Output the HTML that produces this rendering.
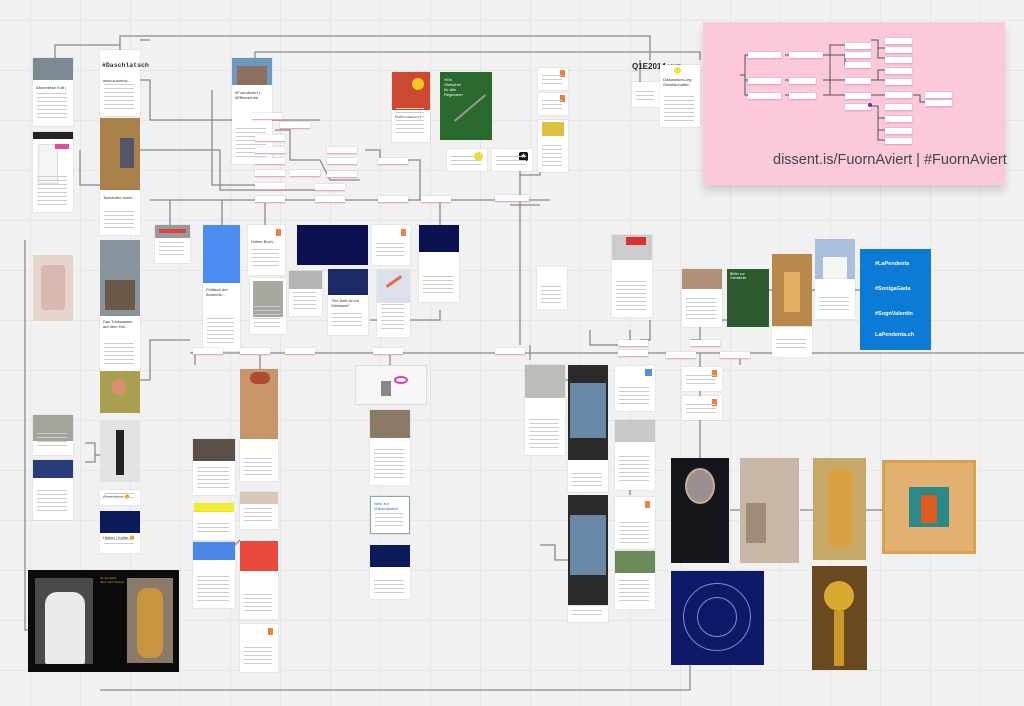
<!DOCTYPE html>
<html><head><meta charset="utf-8"><style>
*{margin:0;padding:0;box-sizing:border-box}
body{width:1024px;height:706px;overflow:hidden;position:relative;font-family:"Liberation Sans",sans-serif;
background-color:#f1f1f1;
background-image:linear-gradient(#e6e6e6 1px,transparent 1px),linear-gradient(90deg,#e6e6e6 1px,transparent 1px);
background-size:50px 50px;background-position:30px 20px}
div{position:absolute}
.c{background:#fff;box-shadow:0 0 1px rgba(0,0,0,.25)}
.c::after{content:"";position:absolute;left:4px;right:6px;bottom:6px;height:40%;max-height:30px;
background:repeating-linear-gradient(#ccc 0 1px,transparent 1px 4px)}
.l{background:#fff;border-bottom:1.5px solid #f2a5bd;width:30px;height:7px;box-shadow:0 0 1px rgba(0,0,0,.3)}
.t{font-size:4px;color:#333;left:3px;right:3px;line-height:5px}
svg{position:absolute;left:0;top:0}
</style></head><body>
<svg width="1024" height="706" fill="none" stroke="#8a8a8a" stroke-width="1.3">
<polyline points="25,240 25,630 30,630"/>
<polyline points="100,690 690,690 690,665"/>
<polyline points="120,50 120,36 650,36 650,60"/>
<polyline points="55,58 55,45 120,45"/>
<polyline points="255,60 255,52 700,52 700,60"/>
<polyline points="190,353 1024,353"/>
<polyline points="150,200 550,200"/>
<polyline points="520,160 520,200 520,345"/>
<polyline points="510,205 540,205"/>
<polyline points="140,80 150,80 150,120 320,120"/>
<polyline points="140,150 220,150 220,190 320,190"/>
<polyline points="110,185 80,185 80,150"/>
<polyline points="275,130 290,130 290,160 320,160 330,180 360,180"/>
<polyline points="140,40 150,40"/>
<polyline points="212,90 212,185 260,185"/>
<polyline points="170,200 170,225"/>
<polyline points="222,200 222,225"/>
<polyline points="265,200 265,225"/>
<polyline points="440,200 440,225"/>
<polyline points="365,150 380,150 380,160 420,160 420,200"/>
<polyline points="660,100 660,90 700,90"/>
<polyline points="640,90 640,60"/>
<polyline points="520,175 540,175 540,160"/>
<polyline points="440,310 440,320 370,320"/>
<polyline points="140,380 150,380 150,340 190,340"/>
<polyline points="195,353 195,365"/>
<polyline points="260,353 260,370"/>
<polyline points="390,353 390,365"/>
<polyline points="530,345 530,360"/>
<polyline points="590,330 590,345 630,345 630,330"/>
<polyline points="640,340 650,340 650,320"/>
<polyline points="690,340 700,340 700,320 740,320 740,300"/>
<polyline points="740,353 740,365"/>
<polyline points="700,353 700,470 680,470 680,510"/>
<polyline points="730,510 740,510"/>
<polyline points="800,510 813,510"/>
<polyline points="866,510 882,510"/>
<polyline points="85,462 95,462 95,443 85,443"/>
<polyline points="95,455 100,455"/>
<polyline points="240,540 235,545"/>
<polyline points="568,380 560,380 560,365"/>
<polyline points="765,290 772,290"/>
<polyline points="812,290 815,290"/>
<polyline points="855,290 860,290"/>
<polyline points="540,545 555,545 555,560 568,560"/>
<polyline points="630,495 630,490"/>
<polyline points="735,37 735,22"/>
<polyline points="710,100 710,185"/>
<polyline points="742,55 742,150"/>
</svg>
<div style="left:703px;top:22px;width:302px;height:163px;background:#fcc8dc;box-shadow:0 6px 8px rgba(0,0,0,.15)"></div>
<svg width="1024" height="706" fill="none" stroke="#555" stroke-width="1">
<polyline points="740,75 745,75 745,55 750,55"/><polyline points="745,80 750,80"/><polyline points="745,75 745,95 750,95"/>
<polyline points="785,55 790,55"/><polyline points="785,80 790,80"/><polyline points="785,95 790,95"/>
<polyline points="823,55 830,55 830,45 845,45"/><polyline points="830,55 845,55 845,65 860,65"/>
<polyline points="830,55 830,95 845,95"/><polyline points="823,80 845,80"/><polyline points="823,95 845,95"/>
<polyline points="871,40 878,40 878,58 885,58"/><polyline points="878,48 885,48"/>
<polyline points="871,80 878,80 878,70 885,70"/><polyline points="878,80 885,80"/>
<polyline points="871,95 885,95"/><polyline points="913,95 920,95 920,102 925,102"/>
<polyline points="871,106 878,106 878,140 885,140"/><polyline points="878,118 885,118"/><polyline points="878,130 885,130"/>
</svg>
<div class="l" style="left:748px;top:52px;width:33px"></div>
<div class="l" style="left:748px;top:78px;width:33px"></div>
<div class="l" style="left:748px;top:93px;width:33px"></div>
<div class="l" style="left:789px;top:52px;width:34px"></div>
<div class="l" style="left:789px;top:78px;width:27px"></div>
<div class="l" style="left:789px;top:93px;width:27px"></div>
<div class="l" style="left:845px;top:43px;width:26px"></div>
<div class="l" style="left:845px;top:52px;width:26px"></div>
<div class="l" style="left:845px;top:62px;width:26px"></div>
<div class="l" style="left:845px;top:78px;width:26px"></div>
<div class="l" style="left:845px;top:93px;width:26px"></div>
<div class="l" style="left:845px;top:104px;width:26px"></div>
<div class="l" style="left:885px;top:38px;width:27px"></div>
<div class="l" style="left:885px;top:47px;width:27px"></div>
<div class="l" style="left:885px;top:57px;width:27px"></div>
<div class="l" style="left:885px;top:68px;width:27px"></div>
<div class="l" style="left:885px;top:79px;width:27px"></div>
<div class="l" style="left:885px;top:92px;width:27px"></div>
<div class="l" style="left:925px;top:92px;width:27px"></div>
<div class="l" style="left:925px;top:100px;width:27px"></div>
<div class="l" style="left:885px;top:104px;width:27px"></div>
<div class="l" style="left:885px;top:116px;width:27px"></div>
<div class="l" style="left:885px;top:128px;width:27px"></div>
<div class="l" style="left:885px;top:138px;width:27px"></div>
<div style="left:868px;top:103px;width:4px;height:4px;border-radius:50%;background:#9020a0"></div>
<div style="left:773px;top:152px;font-size:14.5px;color:#444;white-space:nowrap">dissent.is/FuornAviert | #FuornAviert</div>
<div class="c" style="left:33px;top:58px;width:40px;height:68px"><div style="left:0;top:0;width:40px;height:22px;background:#7d8a96"></div><div class="t" style="top:27px">#Anneliese Kutt | ...</div></div>
<div class="c" style="left:33px;top:132px;width:40px;height:80px"><div style="left:0;top:0;width:40px;height:7px;background:#222"></div><div style="left:5px;top:12px;width:20px;height:40px;background:#f4f4f4;border:1px solid #ddd"></div><div style="left:22px;top:12px;width:14px;height:5px;background:#e84a9a"></div></div>
<div style="left:33px;top:255px;width:40px;height:66px;background:#e6d3cc"><div style="left:8px;top:10px;width:24px;height:45px;background:#d8b8b0;border-radius:4px"></div></div>
<div class="c" style="left:33px;top:415px;width:40px;height:40px"><div style="left:0;top:0;width:40px;height:26px;background:#a4a39c"></div></div>
<div class="c" style="left:33px;top:460px;width:40px;height:60px"><div style="left:0;top:0;width:40px;height:18px;background:#2a3a7a"></div></div>
<div style="left:28px;top:570px;width:151px;height:102px;background:#0b0b0b">
<div style="left:7px;top:8px;width:58px;height:86px;background:#4a4a4a"><div style="left:10px;top:14px;width:40px;height:72px;background:#e8eaec;border-radius:12px 12px 2px 2px"></div></div>
<div style="left:72px;top:6px;width:26px;height:40px;font-size:3px;color:#c8a030">26 Juli 2023<br>Ilanz nach Sedrun</div>
<div style="left:99px;top:8px;width:46px;height:85px;background:#8a7a6a"><div style="left:10px;top:10px;width:26px;height:70px;background:#c89440;border-radius:10px"></div></div></div>
<div class="c" style="left:100px;top:50px;width:40px;height:66px"><div style="left:2px;top:12px;font-size:6.5px;font-family:'Liberation Mono',monospace;font-weight:bold;color:#333">#Daschlatsch</div><div class="t" style="top:28px">www.surselva...</div></div>
<div style="left:100px;top:118px;width:40px;height:72px;background:#a8824a"><div style="left:20px;top:20px;width:14px;height:30px;background:#556"></div></div>
<div class="c" style="left:100px;top:190px;width:40px;height:45px"><div class="t" style="top:5px">Tschaufen durch...</div></div>
<div style="left:100px;top:240px;width:40px;height:76px;background:#8a949c"><div style="left:5px;top:40px;width:30px;height:30px;background:#6a5a4a"></div></div>
<div class="c" style="left:100px;top:316px;width:40px;height:55px"><div class="t" style="top:3px">Das Trinkwasser auf dem Hof...</div></div>
<div style="left:100px;top:371px;width:40px;height:42px;background:#a8a050"><div style="left:12px;top:8px;width:14px;height:16px;background:#d89070;border-radius:50%"></div></div>
<div style="left:100px;top:420px;width:40px;height:62px;background:#e2e2e2"><div style="left:16px;top:10px;width:8px;height:45px;background:#222"></div></div>
<div class="c" style="left:100px;top:490px;width:40px;height:15px"><div class="t" style="top:4px">Alneschmix 🟠</div></div>
<div style="left:100px;top:511px;width:40px;height:22px;background:#0c1a5c"></div>
<div class="c" style="left:100px;top:533px;width:40px;height:20px"><div class="t" style="top:2px">Hütten / Kultur 🟠</div></div>
<div class="c" style="left:232px;top:58px;width:40px;height:106px"><div style="left:0;top:0;width:40px;height:27px;background:#6f98bc"><div style="left:5px;top:8px;width:30px;height:19px;background:#8a7060"></div></div><div class="t" style="top:32px">#FuornAviert | #Effeinschlat</div></div>
<div class="c" style="left:392px;top:72px;width:38px;height:70px"><div style="left:0;top:0;width:38px;height:38px;background:#cc4a32"><div style="left:20px;top:6px;width:12px;height:12px;background:#f2c820;border-radius:50%"></div></div><div class="t" style="top:42px">Kuffrenkarten | ...</div></div>
<div style="left:440px;top:72px;width:52px;height:68px;background:#2a6a2e"><div style="left:4px;top:5px;font-size:4px;color:#fff;line-height:5px">«Ein<br>Gletscher<br>für alle<br>Regionen»</div><div style="left:10px;top:35px;width:40px;height:2px;background:#999;transform:rotate(-40deg)"></div></div>
<div class="c" style="left:447px;top:149px;width:40px;height:22px"><div style="left:27px;top:3px;width:9px;height:9px;border-radius:50%;background:#f0e020"></div></div>
<div class="c" style="left:492px;top:149px;width:40px;height:22px"><div style="left:27px;top:3px;width:9px;height:9px;border-radius:2px;background:#111;color:#fff;font-size:7px;text-align:center;line-height:9px">★</div></div>
<div class="c" style="left:538px;top:68px;width:30px;height:22px"><div style="left:22px;top:2px;width:5px;height:7px;background:#f08040"></div></div>
<div class="c" style="left:538px;top:93px;width:30px;height:22px"><div style="left:22px;top:2px;width:5px;height:7px;background:#f08040"></div></div>
<div class="c" style="left:538px;top:120px;width:30px;height:52px"><div style="left:4px;top:2px;width:22px;height:14px;background:#e0c040"></div></div>
<div style="left:632px;top:62px;width:28px;height:20px;font-size:8px;font-weight:bold;color:#222">Q1E2014.xyz</div>
<div class="c" style="left:632px;top:82px;width:28px;height:25px"></div>
<div class="c" style="left:660px;top:65px;width:40px;height:62px"><div style="left:14px;top:2px;width:7px;height:7px;border-radius:50%;background:#f0e040"></div><div class="t" style="top:12px">Diskussions-org Gesellschaften</div></div>
<div class="l" style="left:252px;top:113px"></div><div class="l" style="left:280px;top:122px"></div>
<div class="l" style="left:255px;top:135px"></div><div class="l" style="left:255px;top:147px"></div>
<div class="l" style="left:255px;top:158px"></div><div class="l" style="left:255px;top:170px"></div>
<div class="l" style="left:255px;top:183px"></div><div class="l" style="left:255px;top:196px"></div>
<div class="l" style="left:290px;top:170px"></div><div class="l" style="left:327px;top:147px"></div>
<div class="l" style="left:327px;top:158px"></div><div class="l" style="left:327px;top:171px"></div>
<div class="l" style="left:315px;top:184px"></div><div class="l" style="left:315px;top:196px"></div>
<div class="l" style="left:378px;top:158px"></div><div class="l" style="left:378px;top:196px"></div>
<div class="l" style="left:421px;top:196px"></div><div class="l" style="left:495px;top:195px;width:34px"></div>
<div class="c" style="left:155px;top:225px;width:35px;height:38px"><div style="left:0;top:0;width:35px;height:13px;background:#999"><div style="left:4px;top:4px;width:27px;height:4px;background:#e04040"></div></div></div>
<div style="left:203px;top:225px;width:37px;height:58px;background:#4b8cf0"></div>
<div class="c" style="left:203px;top:283px;width:37px;height:68px"><div class="t" style="top:4px">Politisch der Anmelde...</div></div>
<div class="c" style="left:248px;top:225px;width:37px;height:50px"><div style="left:28px;top:4px;width:5px;height:7px;background:#f08040"></div><div class="t" style="top:14px">Drittes Buch...</div></div>
<div class="c" style="left:250px;top:278px;width:36px;height:56px"><div style="left:3px;top:3px;width:30px;height:36px;background:#a8a8a0"></div></div>
<div style="left:297px;top:225px;width:71px;height:40px;background:#0a1050"></div>
<div class="c" style="left:372px;top:225px;width:38px;height:40px"><div style="left:29px;top:4px;width:5px;height:7px;background:#f08040"></div></div>
<div style="left:419px;top:225px;width:40px;height:27px;background:#0a1050"></div>
<div class="c" style="left:419px;top:252px;width:40px;height:50px"></div>
<div class="c" style="left:289px;top:271px;width:33px;height:45px"><div style="left:0;top:0;width:33px;height:18px;background:#b4b4b4"></div></div>
<div style="left:328px;top:269px;width:40px;height:26px;background:#1a2a68"></div>
<div class="c" style="left:328px;top:295px;width:40px;height:40px"><div class="t" style="top:3px">"Die Welt ist ein Gleiswerk"</div></div>
<div class="c" style="left:377px;top:270px;width:33px;height:67px"><div style="left:0;top:0;width:33px;height:33px;background:#dce0ec"><div style="left:8px;top:10px;width:18px;height:3px;background:#e07040;transform:rotate(-35deg)"></div></div></div>
<div class="c" style="left:537px;top:267px;width:30px;height:42px"></div>
<div class="l" style="left:193px;top:348px"></div><div class="l" style="left:240px;top:348px"></div>
<div class="l" style="left:285px;top:348px"></div><div class="l" style="left:373px;top:348px"></div>
<div class="l" style="left:495px;top:348px"></div><div class="l" style="left:618px;top:340px"></div>
<div class="l" style="left:618px;top:350px"></div><div class="l" style="left:666px;top:352px"></div>
<div class="l" style="left:690px;top:340px"></div><div class="l" style="left:720px;top:352px"></div>
<div style="left:355px;top:365px;width:72px;height:40px;background:#f6f6f6;border:1px solid #ddd"><div style="left:38px;top:10px;width:14px;height:8px;border:2px solid #e040a0;border-radius:50%"></div><div style="left:25px;top:15px;width:10px;height:15px;background:#888"></div></div>
<div class="c" style="left:370px;top:410px;width:40px;height:75px"><div style="left:0;top:0;width:40px;height:28px;background:#8a7a66"></div></div>
<div class="c" style="left:370px;top:496px;width:40px;height:38px;border:1px solid #8aa"><div class="t" style="top:4px;color:#36c">Nein zur Volksinitiative</div></div>
<div style="left:370px;top:545px;width:40px;height:22px;background:#0c1a5c"></div>
<div class="c" style="left:370px;top:567px;width:40px;height:32px"></div>
<div style="left:240px;top:369px;width:38px;height:70px;background:#c8956a"><div style="left:10px;top:3px;width:20px;height:12px;background:#b04a30;border-radius:6px"></div></div>
<div class="c" style="left:240px;top:439px;width:38px;height:42px"></div>
<div class="c" style="left:240px;top:492px;width:38px;height:37px"><div style="left:0;top:0;width:38px;height:12px;background:#d8c8b8"></div></div>
<div style="left:240px;top:541px;width:38px;height:30px;background:#ea4a3e"></div>
<div class="c" style="left:240px;top:571px;width:38px;height:48px"></div>
<div class="c" style="left:240px;top:624px;width:38px;height:48px"><div style="left:28px;top:4px;width:5px;height:7px;background:#f08040"></div></div>
<div class="c" style="left:193px;top:439px;width:42px;height:56px"><div style="left:0;top:0;width:42px;height:22px;background:#5a5048"></div></div>
<div style="left:194px;top:503px;width:40px;height:9px;background:#f0ec30"></div>
<div class="c" style="left:193px;top:512px;width:42px;height:28px"></div>
<div class="c" style="left:193px;top:542px;width:42px;height:66px"><div style="left:0;top:0;width:42px;height:18px;background:#4a88e8"></div></div>
<div class="c" style="left:525px;top:365px;width:40px;height:90px"><div style="left:0;top:0;width:40px;height:33px;background:#bcbcb8"></div></div>
<div style="left:568px;top:365px;width:40px;height:95px;background:#2a2a2a"><div style="left:2px;top:18px;width:36px;height:55px;background:#6a88a8"></div></div>
<div class="c" style="left:568px;top:460px;width:40px;height:32px"></div>
<div style="left:568px;top:495px;width:40px;height:110px;background:#2a2a2a"><div style="left:2px;top:20px;width:36px;height:60px;background:#6a88a8"></div></div>
<div class="c" style="left:568px;top:606px;width:40px;height:16px"></div>
<div class="c" style="left:612px;top:235px;width:40px;height:82px"><div style="left:0;top:0;width:40px;height:25px;background:#ccc"><div style="left:14px;top:2px;width:20px;height:8px;background:#d83030"></div></div></div>
<div class="c" style="left:615px;top:366px;width:40px;height:45px"><div style="left:30px;top:3px;width:7px;height:7px;background:#4a8cf0"></div></div>
<div class="c" style="left:615px;top:420px;width:40px;height:70px"><div style="left:0;top:0;width:40px;height:22px;background:#c8c8c8"></div></div>
<div class="c" style="left:615px;top:497px;width:40px;height:52px"><div style="left:30px;top:4px;width:5px;height:7px;background:#f08040"></div></div>
<div class="c" style="left:615px;top:551px;width:40px;height:58px"><div style="left:0;top:0;width:40px;height:22px;background:#6a8a5a"></div></div>
<div class="c" style="left:682px;top:269px;width:40px;height:58px"><div style="left:0;top:0;width:40px;height:20px;background:#b09078"></div></div>
<div style="left:727px;top:269px;width:42px;height:58px;background:#2e5a30"><div style="left:3px;top:3px;font-size:3.5px;color:#fff;line-height:4px">Bilder zur<br>Gemeinde</div></div>
<div style="left:772px;top:254px;width:40px;height:72px;background:#b8884a"><div style="left:12px;top:18px;width:16px;height:40px;background:#e0b060"></div></div>
<div class="c" style="left:772px;top:327px;width:40px;height:30px"></div>
<div style="left:815px;top:239px;width:40px;height:40px;background:#a8c0dc"><div style="left:8px;top:18px;width:24px;height:22px;background:#f4f4f0"></div></div>
<div class="c" style="left:815px;top:279px;width:40px;height:40px"></div>
<div style="left:860px;top:249px;width:71px;height:101px;background:#0c7bd8;color:#fff;font-size:5.5px;font-weight:bold">
<div style="left:15px;top:12px">#LaPendenta</div><div style="left:15px;top:37px">#SontgaGada</div><div style="left:15px;top:62px">#SognValentin</div><div style="left:15px;top:83px">LaPendenta.ch</div></div>
<div class="c" style="left:682px;top:367px;width:40px;height:24px"><div style="left:30px;top:3px;width:5px;height:7px;background:#f08040"></div></div>
<div class="c" style="left:682px;top:396px;width:40px;height:24px"><div style="left:30px;top:3px;width:5px;height:7px;background:#f08040"></div></div>
<div style="left:671px;top:458px;width:58px;height:105px;background:#15151c"><div style="left:14px;top:10px;width:30px;height:36px;border-radius:50%;background:#9a9090;border:2px solid #c8b090"></div></div>
<div style="left:740px;top:458px;width:59px;height:105px;background:#c8b6a6"><div style="left:6px;top:45px;width:20px;height:40px;background:#a08a78"></div></div>
<div style="left:813px;top:458px;width:53px;height:102px;background:#c8a868"><div style="left:15px;top:10px;width:25px;height:80px;background:#d8a040;border-radius:10px"></div></div>
<div style="left:882px;top:460px;width:94px;height:94px;background:#e2b070;border:3px solid #d8a050"><div style="left:24px;top:24px;width:40px;height:40px;background:#2a8a8a"><div style="left:12px;top:8px;width:16px;height:28px;background:#e05a20"></div></div></div>
<div style="left:671px;top:571px;width:93px;height:94px;background:#0d1a6a"><div style="left:12px;top:12px;width:68px;height:68px;border-radius:50%;border:1px solid #8090c0"></div><div style="left:26px;top:26px;width:40px;height:40px;border-radius:50%;border:1px solid #8090c0"></div></div>
<div style="left:812px;top:566px;width:55px;height:104px;background:#6a4820"><div style="left:12px;top:15px;width:30px;height:30px;border-radius:50%;background:#d8a830"></div><div style="left:22px;top:45px;width:10px;height:55px;background:#c89828"></div></div>
</body></html>
